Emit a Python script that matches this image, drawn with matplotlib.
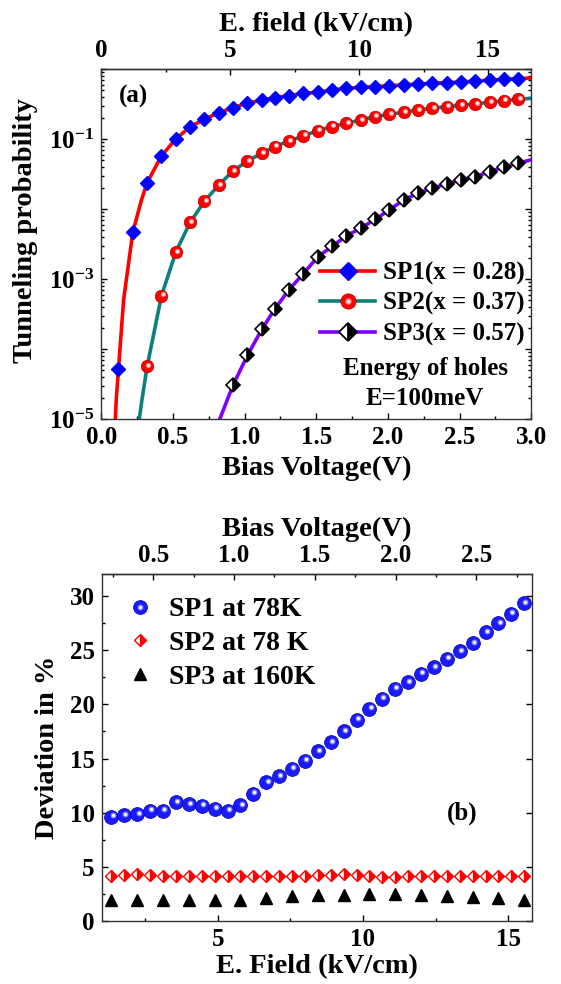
import numpy as np
import matplotlib
matplotlib.use("Agg")
import matplotlib.pyplot as plt
import matplotlib.transforms as mtransforms
from matplotlib.lines import Line2D
from matplotlib.legend_handler import HandlerTuple
from matplotlib.ticker import LogLocator, FuncFormatter, FixedLocator, NullFormatter

plt.rcParams['font.family'] = 'Liberation Serif'
plt.rcParams['font.weight'] = 'bold'
plt.rcParams['axes.labelweight'] = 'bold'
plt.rcParams['mathtext.fontset'] = 'custom'
plt.rcParams['mathtext.rm'] = 'Liberation Serif:bold'
plt.rcParams['mathtext.bf'] = 'Liberation Serif:bold'
plt.rcParams['mathtext.it'] = 'Liberation Serif:bold:italic'

# kV/cm per volt of bias
E_PER_V = 5.56

# (a) tunneling probability vs bias voltage
sp1_v = [0.12, 0.22, 0.32, 0.42, 0.52, 0.62, 0.72, 0.82, 0.92, 1.02, 1.12, 1.21, 1.31, 1.41, 1.51,
         1.61, 1.71, 1.81, 1.91, 2.01, 2.11, 2.21, 2.31, 2.41, 2.51, 2.61, 2.71, 2.81, 2.91]
sp1_p = [5.2e-5, 4.7e-3, 0.024, 0.058, 0.101, 0.151, 0.193, 0.240, 0.283, 0.330, 0.360, 0.394, 0.420,
         0.454, 0.470, 0.506, 0.536, 0.553, 0.565, 0.583, 0.597, 0.617, 0.631, 0.644, 0.659, 0.681,
         0.697, 0.719, 0.736]

sp2_v = sp1_v[2:]
sp2_p = [5.7e-5, 5.8e-4, 2.45e-3, 6.5e-3, 0.0130, 0.0223, 0.0353, 0.0491, 0.0632, 0.0785, 0.0946,
         0.112, 0.133, 0.152, 0.169, 0.189, 0.210, 0.228, 0.243, 0.262, 0.277, 0.292, 0.306, 0.320,
         0.338, 0.356, 0.372]

sp3_v = sp1_v[8:]
sp3_p = [3.1e-5, 8.2e-5, 1.92e-4, 3.75e-4, 7.1e-4, 1.20e-3, 2.09e-3, 2.95e-3, 4.17e-3, 5.37e-3,
         7.16e-3, 9.8e-3, 0.0136, 0.0170, 0.0200, 0.0231, 0.0263, 0.0293, 0.0345, 0.0399, 0.0457]

# extra points on the curves outside the markers
sp1_head_v, sp1_head_p = [0.098, 0.105], [1.0e-5, 2.0e-5]
sp1_mid_v, sp1_mid_p = [0.156, 0.28], [5.1e-4, 0.0135]
sp2_head_v, sp2_head_p = [0.265, 0.284], [1.0e-5, 1.9e-5]
sp3_head_v, sp3_head_p = [0.826], [1.0e-5]
tail_v = 3.0
sp1_tail, sp2_tail, sp3_tail = 0.75, 0.385, 0.051

# (b) deviation vs electric field
field_b = [1.34, 1.78, 2.23, 2.67, 3.12, 3.56, 4.00, 4.45, 4.89, 5.34, 5.78, 6.22, 6.67, 7.11, 7.56,
           8.00, 8.44, 8.89, 9.33, 9.78, 10.22, 10.66, 11.11, 11.55, 12.00, 12.44, 12.88, 13.33,
           13.77, 14.22, 14.66, 15.10, 15.55]
dev_sp1 = [9.63, 9.79, 9.88, 10.19, 10.19, 11.01, 10.80, 10.65, 10.40, 10.19, 10.71, 11.78, 12.85,
           13.38, 14.08, 14.79, 15.71, 16.53, 17.52, 18.59, 19.60, 20.52, 21.44, 22.05, 22.82, 23.43,
           24.20, 24.88, 25.64, 26.65, 27.48, 28.34, 29.32]
dev_sp2 = [4.2, 4.3, 4.4, 4.3, 4.2, 4.2, 4.2, 4.2, 4.2, 4.2, 4.2, 4.2, 4.2, 4.2, 4.2, 4.2, 4.3, 4.3,
           4.4, 4.3, 4.2, 4.1, 4.1, 4.2, 4.2, 4.2, 4.2, 4.2, 4.2, 4.2, 4.2, 4.2, 4.2]
field_b3 = field_b[::2]
dev_sp3 = [2.0, 2.0, 2.0, 2.0, 2.0, 2.0, 2.15, 2.3, 2.4, 2.45, 2.5, 2.5, 2.45, 2.3, 2.25, 2.15, 2.0]

# tick positions
v_major, v_minor = [0.0, 0.5, 1.0, 1.5, 2.0, 2.5, 3.0], [0.25, 0.75, 1.25, 1.75, 2.25, 2.75]
e_major, e_minor = [0, 5, 10, 15], [2.5, 7.5, 12.5]
vb_major, vb_minor = [0.5, 1.0, 1.5, 2.0, 2.5], [0.25, 0.75, 1.25, 1.75, 2.25, 2.75]
eb_major, eb_minor = [5, 10, 15], [2.5, 7.5, 12.5]
dev_major, dev_minor = [0, 5, 10, 15, 20, 25, 30], [2.5, 7.5, 12.5, 17.5, 22.5, 27.5]


def draw_balls(ax, x, y, color, edge, shine, ms, z=4):
    """shaded sphere markers: base disc plus an offset highlight"""
    ax.plot(x, y, ls='none', marker='o', ms=ms, mfc=color, mec=edge, mew=0.5, zorder=z)
    off = mtransforms.offset_copy(ax.transData, fig=ax.figure, x=0.9, y=1.0, units='points')
    ax.plot(x, y, ls='none', marker='o', ms=ms * 0.42, mfc=shine, mec='none',
            transform=off, zorder=z + 1)
    ax.plot(x, y, ls='none', marker='o', ms=ms * 0.22, mfc='white', mec='none',
            transform=off, zorder=z + 2)


def style_axes(ax):
    for s in ax.spines.values():
        s.set_linewidth(1.0)
        s.set_color('#333333')
    ax.tick_params(which='both', direction='in', labelsize=18, pad=5, width=1.0)
    ax.tick_params(which='major', length=4.5)
    ax.tick_params(which='minor', length=2.5)


def odd_decades(val, pos):
    e = int(round(np.log10(val)))
    return r'$10^{%d}$' % e if e % 2 else ''


fig = plt.figure(figsize=(5.61, 9.84), dpi=100)

# ---------- panel (a) ----------
ax1 = fig.add_axes([0.1805, 0.5739, 0.7665, 0.3557])
ax1.set_yscale('log')

ax1.plot(sp1_head_v + sp1_v[:1] + sp1_mid_v[:1] + sp1_v[1:2] + sp1_mid_v[1:] + sp1_v[2:] + [tail_v],
         sp1_head_p + sp1_p[:1] + sp1_mid_p[:1] + sp1_p[1:2] + sp1_mid_p[1:] + sp1_p[2:] + [sp1_tail],
         color='red', lw=2.6, zorder=2)
ax1.plot(sp2_head_v + sp2_v + [tail_v], sp2_head_p + sp2_p + [sp2_tail],
         color='#0e7f7a', lw=2.6, zorder=2)
ax1.plot(sp3_head_v + sp3_v + [tail_v], sp3_head_p + sp3_p + [sp3_tail],
         color='#7f00ff', lw=2.6, zorder=2)

ax1.plot(sp1_v, sp1_p, ls='none', marker='D', ms=7.5, mfc='blue', mec='blue', zorder=4)
draw_balls(ax1, sp2_v, sp2_p, 'red', '#c00000', '#ff8c8c', 9)
ax1.plot(sp3_v, sp3_p, ls='none', marker='D', ms=7, fillstyle='right', mfc='black',
         mfcalt='white', mec='black', mew=1.2, zorder=4)

ax1.set_xlim(0, 3.0)
ax1.set_ylim(1e-5, 1)
ax1.xaxis.set_major_locator(FixedLocator(v_major))
ax1.xaxis.set_minor_locator(FixedLocator(v_minor))
ax1.yaxis.set_major_locator(LogLocator(base=10, numticks=10))
ax1.yaxis.set_minor_locator(LogLocator(base=10, subs=range(2, 10), numticks=20))
ax1.yaxis.set_minor_formatter(NullFormatter())
ax1.yaxis.set_major_formatter(FuncFormatter(odd_decades))
ax1.tick_params(axis='y', which='both', right=True)
style_axes(ax1)
ax1.set_xlabel('Bias Voltage(V)', fontsize=20.5, labelpad=5)
ax1.set_ylabel('Tunneling probability', fontsize=20.5)
ax1.yaxis.set_label_coords(-0.1465, 0.54)

top1 = ax1.secondary_xaxis('top', functions=(lambda v: v * E_PER_V, lambda e: e / E_PER_V))
top1.xaxis.set_major_locator(FixedLocator(e_major))
top1.xaxis.set_minor_locator(FixedLocator(e_minor))
style_axes(top1)
top1.set_xlabel('E. field (kV/cm)', fontsize=20.5, labelpad=6)

ax1.text(0.074, 0.922, '(a)', transform=ax1.transAxes, fontsize=18, ha='center', va='center')

h1 = Line2D([], [], color='red', lw=2.6, marker='D', ms=9.5, mfc='blue', mec='blue')
h2 = Line2D([], [], color='#0e7f7a', lw=2.6, marker='o', ms=11, mfc='red', mec='#c00000', mew=0.5)
h2s = Line2D([], [], ls='none', marker='o', ms=4.6, mfc='#ff8c8c', mec='none')
h2w = Line2D([], [], ls='none', marker='o', ms=2.4, mfc='white', mec='none')
h3 = Line2D([], [], color='#7f00ff', lw=2.6, marker='D', ms=9, fillstyle='right', mfc='black',
            mfcalt='white', mec='black', mew=1.3)
ax1.legend([h1, (h2, h2s, h2w), h3], ['SP1(x = 0.28)', 'SP2(x = 0.37)', 'SP3(x = 0.57)'],
           handler_map={tuple: HandlerTuple(ndivide=1)}, loc='upper left',
           bbox_to_anchor=(0.509, 0.451), frameon=False, fontsize=18, handlelength=2.2,
           handletextpad=0.3, labelspacing=0.28, borderpad=0, borderaxespad=0)
ax1.text(0.753, 0.102, 'Energy of holes\nE=100meV', transform=ax1.transAxes, fontsize=18,
         ha='center', va='center', linespacing=1.4)

# ---------- panel (b) ----------
ax2 = fig.add_axes([0.1810, 0.0636, 0.7674, 0.3530])
draw_balls(ax2, field_b, dev_sp1, '#1a1aff', '#0000a8', '#8c8cff', 10)
ax2.plot(field_b, dev_sp2, ls='none', marker='D', ms=6.3, fillstyle='right', mfc='red',
         mfcalt='white', mec='red', mew=1.0, zorder=4)
ax2.plot(field_b3, dev_sp3, ls='none', marker='^', ms=8, mfc='black', mec='black', zorder=4)

ax2.set_xlim(1.0, 15.82)
ax2.set_ylim(0, 32)
ax2.xaxis.set_major_locator(FixedLocator(eb_major))
ax2.xaxis.set_minor_locator(FixedLocator(eb_minor))
ax2.yaxis.set_major_locator(FixedLocator(dev_major))
ax2.yaxis.set_minor_locator(FixedLocator(dev_minor))
ax2.tick_params(axis='y', which='major', right=True)
style_axes(ax2)
ax2.set_xlabel('E. Field (kV/cm)', fontsize=20.5, labelpad=2)
ax2.set_ylabel('Deviation in %', fontsize=20.5)
ax2.yaxis.set_label_coords(-0.097, 0.5)

top2 = ax2.secondary_xaxis('top', functions=(lambda e: e / E_PER_V, lambda v: v * E_PER_V))
top2.xaxis.set_major_locator(FixedLocator(vb_major))
top2.xaxis.set_minor_locator(FixedLocator(vb_minor))
style_axes(top2)
top2.set_xlabel('Bias Voltage(V)', fontsize=20.5, labelpad=6)

ax2.text(0.837, 0.312, '(b)', transform=ax2.transAxes, fontsize=18, ha='center', va='center')

b1 = Line2D([], [], ls='none', marker='o', ms=10, mfc='#1a1aff', mec='#0000a8', mew=0.5)
b1s = Line2D([], [], ls='none', marker='o', ms=4.2, mfc='#8c8cff', mec='none')
b1w = Line2D([], [], ls='none', marker='o', ms=2.2, mfc='white', mec='none')
b2 = Line2D([], [], ls='none', marker='D', ms=6.3, fillstyle='right', mfc='red', mfcalt='white',
            mec='red')
b3 = Line2D([], [], ls='none', marker='^', ms=8, mfc='black', mec='black')
ax2.legend([(b1, b1s, b1w), b2, b3], ['SP1 at 78K', 'SP2 at 78 K', 'SP3 at 160K'],
           handler_map={tuple: HandlerTuple(ndivide=1)}, loc='upper left',
           bbox_to_anchor=(0.057, 0.934), frameon=False, fontsize=20, handlelength=1.0,
           handletextpad=0.55, labelspacing=0.3, borderpad=0, borderaxespad=0)

fig.savefig('out.png', dpi=100)
